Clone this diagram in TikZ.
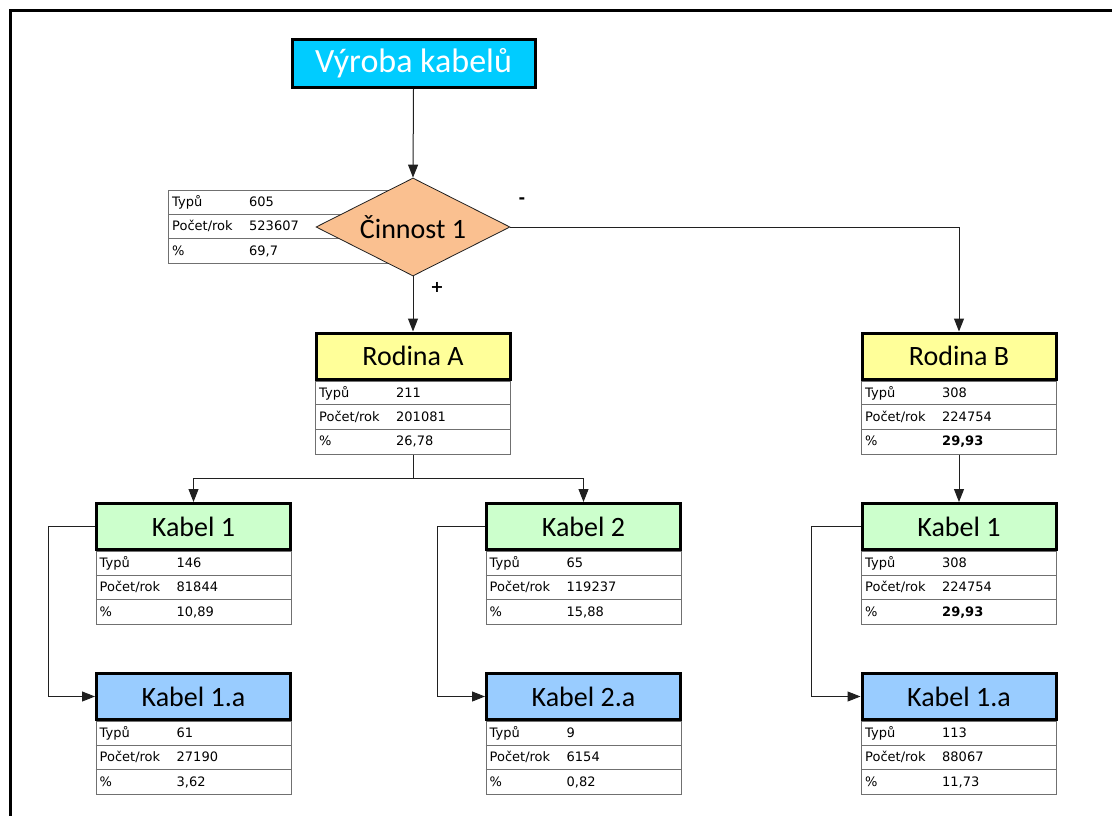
\documentclass[tikz,border=0pt]{standalone}
\usepackage{fontspec}
\setmainfont{Carlito}
\newfontfamily\tabfont{DejaVu Sans}
\usetikzlibrary{shapes.geometric,arrows.meta,calc}

\definecolor{cyanhead}{HTML}{00CCFF}
\definecolor{famyellow}{HTML}{FFFF99}
\definecolor{cablegreen}{HTML}{CCFFCC}
\definecolor{subblue}{HTML}{99CCFF}
\definecolor{actpeach}{HTML}{FAC090}
\definecolor{gridgray}{HTML}{707070}
\definecolor{wire}{HTML}{202020}

\tikzset{
  headbox/.style={draw=black, line width=3pt, minimum width=194pt, minimum height=46pt,
    inner sep=0pt, font=\fontsize{28}{32}\selectfont},
  tabbox/.style={draw=gridgray, line width=1pt, minimum width=195pt, minimum height=73pt,
    inner sep=0pt, anchor=north},
  grid/.style={draw=gridgray, line width=1pt},
  cell/.style={anchor=base west, inner sep=0pt, font=\tabfont\fontsize{13}{15}\selectfont},
  wireline/.style={draw=wire, line width=1pt},
  conn/.style={wireline, -{Triangle[length=13pt,width=10pt]}},
  sign/.style={inner sep=0pt, font=\tabfont\bfseries\fontsize{16}{18}\selectfont},
}

% rows and entries of a three-line data table
\newcommand\datarows[5]{%
  \draw[grid] ($(#1.north west)+(0,24.3)$) -- ($(#1.north east)+(0,24.3)$)
              ($(#1.north west)+(0,48.6)$) -- ($(#1.north east)+(0,48.6)$);
  \node[cell] (#1-l1) at ($(#1.north west)+(4,16.5)$) {Typů};
  \node[cell] (#1-v1) at ($(#1.north west)+(81,16.5)$) {#2};
  \node[cell] (#1-l2) at ($(#1.north west)+(4,40.8)$) {Počet/rok};
  \node[cell] (#1-v2) at ($(#1.north west)+(81,40.8)$) {#3};
  \node[cell] (#1-l3) at ($(#1.north west)+(4,65.1)$) {\%};
  \node[cell] (#1-v3) at ($(#1.north west)+(81,65.1)$) {#5#4};
}

% a coloured heading box with its data table below
\newcommand\unitbox[8]{%
  \node[headbox, fill=#4] (#1) at (#2,#3) {#5};
  \node[tabbox] (#1-t) at (#1.south) {};
  \datarows{#1-t}{#6}{#7}{#8}{}%
}
\newcommand\unitboxbold[8]{%
  \node[headbox, fill=#4] (#1) at (#2,#3) {#5};
  \node[tabbox] (#1-t) at (#1.south) {};
  \datarows{#1-t}{#6}{#7}{#8}{\bfseries}%
}

\begin{document}
\begin{tikzpicture}[x=1pt, y=-1pt]
\useasboundingbox (0,0) rectangle (1112,816);

% outer frame
\draw[line width=3pt] (10.8,816) -- (10.8,10.8) -- (1112,10.8);

% top heading
\node[headbox, fill=cyanhead, text=white, minimum width=243pt, minimum height=48pt,
      font=\fontsize{34}{38}\selectfont] (title) at (413.5,63.5) {Výroba kabelů};

% activity table (partly covered by the decision)
\node[draw=gridgray, line width=1pt, minimum width=232pt, minimum height=73pt,
      inner sep=0pt, anchor=north west] (act-t) at (168,190) {};
\datarows{act-t}{605}{523607}{69,7}{}

% decision
\node[diamond, aspect=2, draw=wire, line width=0.8pt, fill=actpeach, inner sep=0pt,
      minimum width=194pt, minimum height=98pt, font=\fontsize{28}{32}\selectfont]
      (act) at (413,227) {Činnost 1};
\node[sign] (minus) at (522,201) {-};
\node[sign] (plus) at (437,287) {+};

% families
\unitbox{ra}{413}{356}{famyellow}{Rodina A}{211}{201081}{26,78}
\unitboxbold{rb}{959}{356}{famyellow}{Rodina B}{308}{224754}{29,93}

% cables
\unitbox{k1}{193.5}{526.5}{cablegreen}{Kabel 1}{146}{81844}{10,89}
\unitbox{k2}{583.5}{526.5}{cablegreen}{Kabel 2}{65}{119237}{15,88}
\unitboxbold{k3}{959}{526.5}{cablegreen}{Kabel 1}{308}{224754}{29,93}

% sub-cables
\unitbox{k1a}{193.5}{696.5}{subblue}{Kabel 1.a}{61}{27190}{3,62}
\unitbox{k2a}{583.5}{696.5}{subblue}{Kabel 2.a}{9}{6154}{0,82}
\unitbox{k3a}{959}{696.5}{subblue}{Kabel 1.a}{113}{88067}{11,73}

% connectors
\draw[conn] (title.south) -- (act.north);
\draw[conn] (act.south) -- (ra.north);
\draw[conn] (act.east) -| (rb.north);
\coordinate (split) at ($(ra-t.south)+(0,24)$);
\draw[wireline] (ra-t.south) -- (split);
\draw[conn] (split) -| (k1.north);
\draw[conn] (split) -| (k2.north);
\draw[conn] (rb-t.south) -- (k3.north);
\draw[conn] (k1.west) -- ++(-47,0) |- (k1a.west);
\draw[conn] (k2.west) -- ++(-48,0) |- (k2a.west);
\draw[conn] (k3.west) -- ++(-49,0) |- (k3a.west);
\end{tikzpicture}
\end{document}
